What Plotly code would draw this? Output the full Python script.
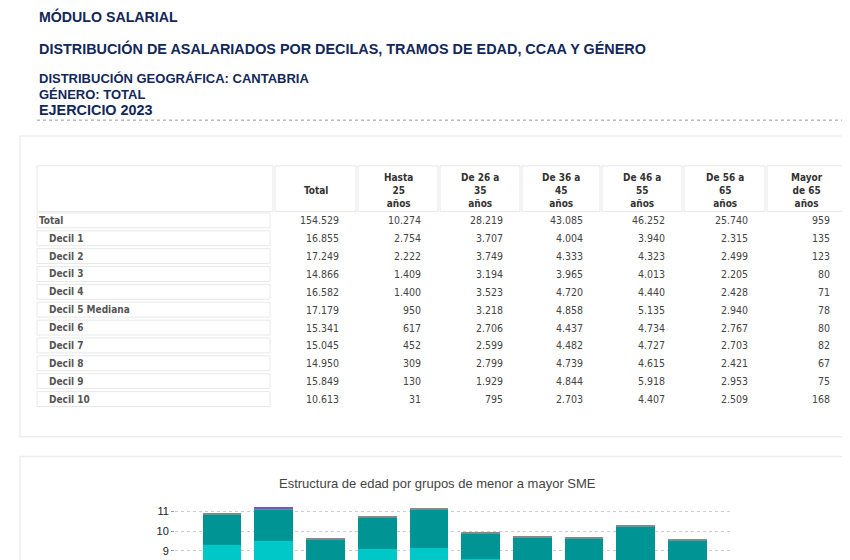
import plotly.graph_objects as go

W, H = 842, 800

def px(x):
    return (x - 8) / W

def py(y):
    return 1 - (y - 8) / H

# table data
row_labels = ["Total", "Decil 1", "Decil 2", "Decil 3", "Decil 4", "Decil 5 Mediana",
              "Decil 6", "Decil 7", "Decil 8", "Decil 9", "Decil 10"]
col_headers = ["Total", "Hasta<br>25<br>años", "De 26 a<br>35<br>años", "De 36 a<br>45<br>años",
               "De 46 a<br>55<br>años", "De 56 a<br>65<br>años", "Mayor<br>de 65<br>años"]
total = ["154.529", "16.855", "17.249", "14.866", "16.582", "17.179", "15.341", "15.045", "14.950", "15.849", "10.613"]
hasta25 = ["10.274", "2.754", "2.222", "1.409", "1.400", "950", "617", "452", "309", "130", "31"]
de26_35 = ["28.219", "3.707", "3.749", "3.194", "3.523", "3.218", "2.706", "2.599", "2.799", "1.929", "795"]
de36_45 = ["43.085", "4.004", "4.333", "3.965", "4.720", "4.858", "4.437", "4.482", "4.739", "4.844", "2.703"]
de46_55 = ["46.252", "3.940", "4.323", "4.013", "4.440", "5.135", "4.734", "4.727", "4.615", "5.918", "4.407"]
de56_65 = ["25.740", "2.315", "2.499", "2.205", "2.428", "2.940", "2.767", "2.703", "2.421", "2.953", "2.509"]
mayor65 = ["959", "135", "123", "80", "71", "78", "80", "82", "67", "75", "168"]

# chart data (visible part of the stacked bars)
deciles = ["Decil 1", "Decil 2", "Decil 3", "Decil 4", "Decil 5",
           "Decil 6", "Decil 7", "Decil 8", "Decil 9", "Decil 10"]
seg_bajo = [9.3, 9.5, 8.5, 9.1, 9.15, 8.6, 8.4, 8.2, 7.8, 7.0]
seg_medio = [1.52, 1.55, 1.07, 1.57, 1.92, 1.27, 1.27, 1.42, 2.42, 2.5]
seg_alto = [0.06, 0.06, 0.06, 0.06, 0.06, 0.06, 0.06, 0.06, 0.06, 0.06]
seg_extra = [0.0, 0.08, 0.0, 0.0, 0.0, 0.0, 0.0, 0.0, 0.0, 0.0]

fig = go.Figure()

colors = ["#00c8c8", "#009494", "#888888", "#6a5acd"]
for vals, c, name in zip([seg_bajo, seg_medio, seg_alto, seg_extra], colors,
                         ["Tramo 1", "Tramo 2", "Tramo 3", "Tramo 4"]):
    fig.add_trace(go.Bar(x=list(range(len(deciles))), y=vals, marker_color=c, name=name,
                         width=0.75, marker_line_width=0, showlegend=False))

shapes = [
    dict(type="line", xref="paper", yref="paper", x0=px(37), x1=px(850), y0=py(121), y1=py(121),
         line=dict(color="#999", width=1, dash="dot")),
    dict(type="rect", xref="paper", yref="paper", x0=px(20), x1=px(849), y0=py(137), y1=py(440),
         line=dict(color="#eeeeee", width=1.5)),
    dict(type="rect", xref="paper", yref="paper", x0=px(20), x1=px(849), y0=py(460), y1=py(790),
         line=dict(color="#eeeeee", width=1.5)),
]
annots = []

# table layout (pixel geometry)
col_edges = [36, 274, 357, 439, 521, 601, 683, 766, 848]
head_top, head_bot = 167, 213
row_y0, row_h = 222, 18
cell_font = dict(family="DejaVu Sans Condensed", size=10.5, color="#444")

for i in range(len(col_edges) - 1):
    shapes.append(dict(type="rect", xref="paper", yref="paper",
                       x0=px(col_edges[i] + 1), x1=px(col_edges[i + 1] - 1),
                       y0=py(head_top), y1=py(head_bot), line=dict(color="#e8e8e8", width=1)))
for j, h in enumerate(col_headers):
    cx = (col_edges[j + 1] + col_edges[j + 2]) / 2
    annots.append(dict(text="<b>" + h + "</b>", x=px(cx), y=py((head_top + head_bot) / 2 + 2),
                       xanchor="center", yanchor="middle", align="center",
                       font=dict(family="DejaVu Sans Condensed", size=10, color="#333")))

columns = [total, hasta25, de26_35, de36_45, de46_55, de56_65, mayor65]
for r, lab in enumerate(row_labels):
    yc = row_y0 + r * row_h
    shapes.append(dict(type="rect", xref="paper", yref="paper", x0=px(37), x1=px(270),
                       y0=py(yc - 7.5), y1=py(yc + 7.5), line=dict(color="#e8e8e8", width=1)))
    indent = 37 if r == 0 else 47
    annots.append(dict(text="<b>" + lab + "</b>", x=px(indent), y=py(yc), xanchor="left", yanchor="middle",
                       font=dict(family="DejaVu Sans Condensed", size=10, color="#555")))
    for j, col in enumerate(columns):
        annots.append(dict(text=col[r], x=px(col_edges[j + 2] - 16), y=py(yc),
                           xanchor="right", yanchor="middle", font=cell_font))

navy = "#12275a"
heads = [
    ("MÓDULO SALARIAL", 17, 14.2),
    ("DISTRIBUCIÓN DE ASALARIADOS POR DECILAS, TRAMOS DE EDAD, CCAA Y GÉNERO", 49, 14.4),
    ("DISTRIBUCIÓN GEOGRÁFICA: CANTABRIA", 79, 13),
    ("GÉNERO: TOTAL", 95, 13),
    ("EJERCICIO 2023", 111, 14.4),
]
for txt, y, s in heads:
    annots.append(dict(text=txt, x=px(37), y=py(y), xanchor="left", yanchor="middle",
                       font=dict(family="Liberation Sans", size=s, color=navy, weight=600)))

annots.append(dict(text="Estructura de edad por grupos de menor a mayor SME",
                   x=px(437), y=py(487), xanchor="center", yanchor="middle",
                   font=dict(family="Liberation Sans", size=13, color="#444")))

for a in annots:
    a.update(xref="paper", yref="paper", showarrow=False)

fig.update_layout(
    width=W, height=H, barmode="stack",
    margin=dict(l=0, r=0, t=0, b=0),
    plot_bgcolor="white", paper_bgcolor="white",
    font=dict(family="Liberation Sans", color="#333"),
    xaxis=dict(domain=[px(175), px(733)], range=[-0.91, 9.88], anchor="y",
               showticklabels=False, showgrid=False, zeroline=False),
    yaxis=dict(domain=[py(735), py(503)], range=[0, 11.6], dtick=1,
               showgrid=True, gridcolor="#cccccc", griddash="dot", zeroline=False,
               ticks="outside", ticklen=3, tickcolor="#999",
               tickfont=dict(family="Liberation Sans", size=11, color="#222")),
    shapes=shapes,
    annotations=annots,
)

fig.write_html("out.html")
